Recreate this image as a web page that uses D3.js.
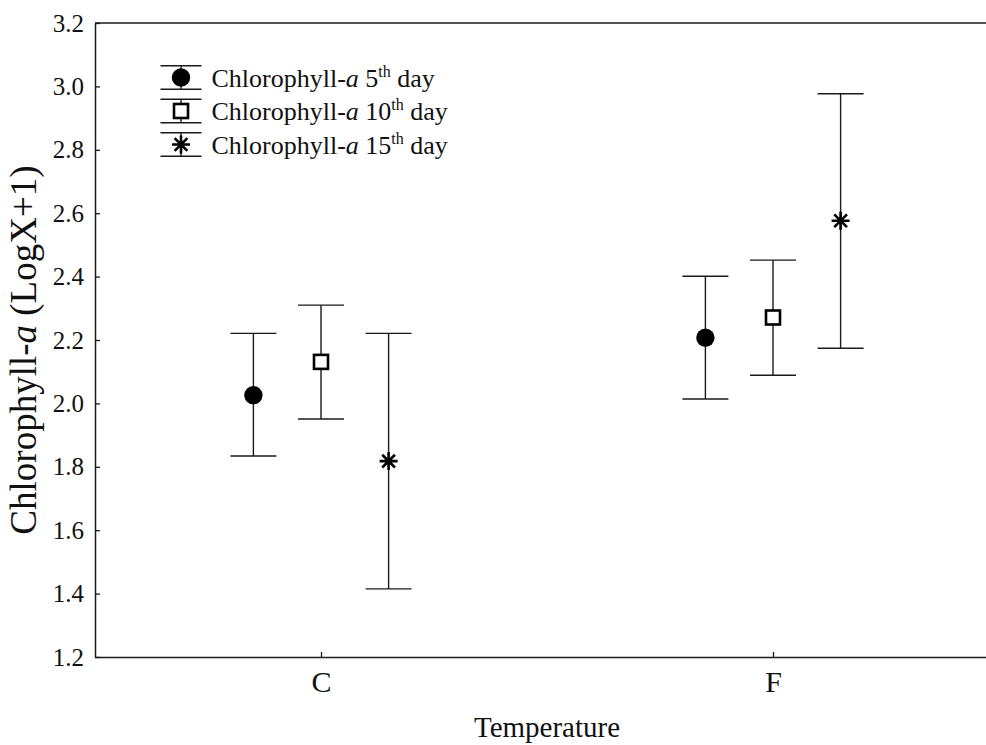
<!DOCTYPE html>
<html>
<head>
<meta charset="utf-8">
<script src="https://cdn.jsdelivr.net/npm/d3@7"></script>
<style>
  html, body { margin: 0; padding: 0; background: #fff; }
  svg { display: block; }
  text { font-family: "Liberation Serif", "Times New Roman", Times, serif; fill: #111; }
</style>
</head>
<body>
<svg id="chart" width="986" height="745"></svg>
<script>
// ---- data ----
const categories = ["C", "F"];
const seriesNames = ["5", "10", "15"];
const seriesMarkers = ["circle", "square", "star"];
const means = [
  [2.026, 2.207],   // 5th day
  [2.131, 2.271],   // 10th day
  [1.818, 2.576]    // 15th day
];
const upper = [
  [2.221, 2.401],
  [2.310, 2.452],
  [2.221, 2.977]
];
const lower = [
  [1.834, 2.014],
  [1.951, 2.089],
  [1.415, 2.174]
];
const yTicks = [1.2, 1.4, 1.6, 1.8, 2.0, 2.2, 2.4, 2.6, 2.8, 3.0, 3.2];

// ---- layout ----
const W = 986, H = 745;
const mLeft = 95, mRight = 999, mTop = 23, mBottom = 657;
const serif = '"Liberation Serif", "Times New Roman", Times, serif';
const svg = d3.select("#chart");

const x = d3.scalePoint().domain(categories).range([mLeft, mRight]).padding(0.5);
const y = d3.scaleLinear().domain([1.2, 3.2]).range([mBottom, mTop]);
const offset = d3.scalePoint().domain(seriesNames).range([-67.6, 67.6]);

const ink = "#1a1a1a";

// top frame line
svg.append("line").attr("x1", mLeft).attr("x2", W).attr("y1", mTop).attr("y2", mTop)
  .attr("stroke", ink).attr("stroke-width", 1.5);

// y axis
const yAxis = d3.axisLeft(y).tickValues(yTicks).tickFormat(d3.format(".1f")).tickSizeInner(-5).tickSizeOuter(0).tickPadding(11);
const gy = svg.append("g").attr("transform", `translate(${mLeft},0)`).call(yAxis)
  .attr("font-family", serif);
gy.select(".domain").attr("stroke", ink).attr("stroke-width", 1.5);
gy.selectAll(".tick line").attr("stroke", ink).attr("stroke-width", 1.3);
gy.selectAll(".tick text").style("font-family", serif).style("font-size", "25px").attr("fill", ink);

// x axis
const xAxis = d3.axisBottom(x).tickSizeInner(-5).tickSizeOuter(0).tickPadding(14);
const gx = svg.append("g").attr("transform", `translate(0,${mBottom})`).call(xAxis)
  .attr("font-family", serif);
gx.select(".domain").attr("d", `M${mLeft},0.5H${W}`).attr("stroke", ink).attr("stroke-width", 1.5);
gx.selectAll(".tick line").attr("stroke", ink).attr("stroke-width", 1.3);
gx.selectAll(".tick text").style("font-family", serif).style("font-size", "30px").attr("fill", ink);

// axis titles
svg.append("text").attr("x", (mLeft + mRight) / 2).attr("y", 737)
  .attr("text-anchor", "middle").style("font-size", "29px").text("Temperature");

const yl = svg.append("text")
  .attr("transform", `translate(36,350) rotate(-90)`)
  .attr("text-anchor", "middle").style("font-size", "37px");
yl.append("tspan").text("Chlorophyll-");
yl.append("tspan").style("font-style", "italic").text("a");
yl.append("tspan").text(" (LogX+1)");

// marker drawing
function drawMarker(g, type, cx, cy) {
  if (type === "circle") {
    g.append("circle").attr("cx", cx).attr("cy", cy).attr("r", 9.2).attr("fill", "#000");
  } else if (type === "square") {
    g.append("rect").attr("x", cx - 7).attr("y", cy - 7).attr("width", 14).attr("height", 14)
      .attr("fill", "#fff").attr("stroke", "#000").attr("stroke-width", 2.6);
  } else {
    const r = 9;
    const d = r * Math.SQRT1_2;
    const p = `M${cx - r},${cy}H${cx + r}M${cx},${cy - r}V${cy + r}` +
      `M${cx - d},${cy - d}L${cx + d},${cy + d}M${cx - d},${cy + d}L${cx + d},${cy - d}`;
    g.append("path").attr("d", p).attr("stroke", "#000").attr("stroke-width", 2.6).attr("fill", "none");
  }
}

const capHalf = 23;
const marks = svg.append("g");
seriesNames.forEach((s, si) => {
  categories.forEach((c, ci) => {
    const cx = x(c) + offset(s);
    const g = marks.append("g");
    g.append("line").attr("x1", cx).attr("x2", cx).attr("y1", y(upper[si][ci])).attr("y2", y(lower[si][ci]))
      .attr("stroke", ink).attr("stroke-width", 1.4);
    [upper[si][ci], lower[si][ci]].forEach(v => {
      g.append("line").attr("x1", cx - capHalf).attr("x2", cx + capHalf).attr("y1", y(v)).attr("y2", y(v))
        .attr("stroke", ink).attr("stroke-width", 1.4);
    });
    drawMarker(g, seriesMarkers[si], cx, y(means[si][ci]));
  });
});

// legend
const legX = 181, legY0 = 77.5, legStep = 33.5;
const leg = svg.append("g");
seriesNames.forEach((s, si) => {
  const cy = legY0 + si * legStep;
  const g = leg.append("g");
  g.append("line").attr("x1", legX).attr("x2", legX).attr("y1", cy - 11.8).attr("y2", cy + 11.8)
    .attr("stroke", ink).attr("stroke-width", 1.4);
  [-11.8, 11.8].forEach(dy => {
    g.append("line").attr("x1", legX - 20.5).attr("x2", legX + 20.5).attr("y1", cy + dy).attr("y2", cy + dy)
      .attr("stroke", ink).attr("stroke-width", 1.4);
  });
  drawMarker(g, seriesMarkers[si], legX, cy);
  const t = g.append("text").attr("x", 211.5).attr("y", cy + 9).style("font-size", "26px");
  t.append("tspan").text("Chlorophyll-");
  t.append("tspan").style("font-style", "italic").text("a");
  t.append("tspan").text(" " + s);
  t.append("tspan").attr("dy", -10).style("font-size", "16px").text("th");
  t.append("tspan").attr("dy", 10).text(" day");
});
</script>
</body>
</html>
